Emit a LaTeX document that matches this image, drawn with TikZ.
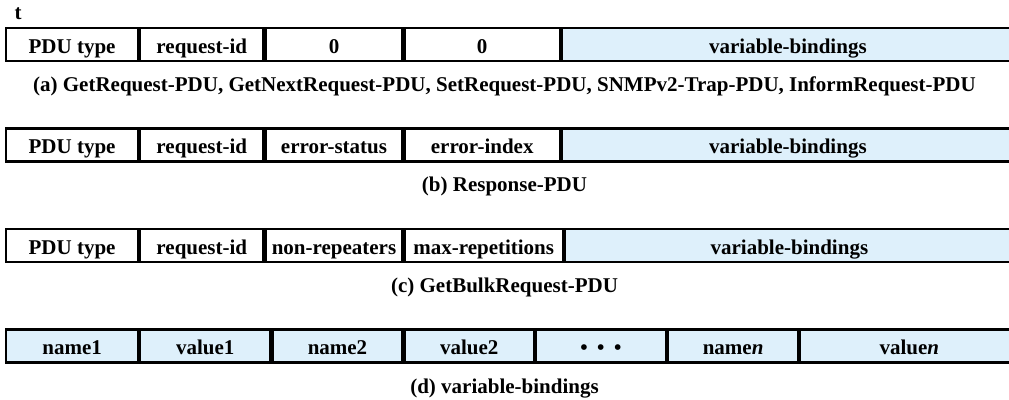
\documentclass[tikz,border=0pt]{standalone}
\usepackage{fontspec}
\setmainfont{Liberation Serif}
\usepackage{tikz}
\usetikzlibrary{positioning}
\definecolor{bindblue}{RGB}{222,240,251}
\tikzset{
  field/.style={
    draw=black,
    line width=1.1pt,
    fill=white,
    minimum height=16.5pt,
    inner sep=0pt,
    text height=9pt,
    text depth=0pt,
    font=\fontsize{10.5}{12}\selectfont\bfseries
  },
  bindfield/.style={field, fill=bindblue},
  pducaption/.style={font=\fontsize{10.5}{12}\selectfont\bfseries, inner sep=0pt}
}

\begin{document}
\begin{tikzpicture}[x=0.5pt, y=-0.5pt, node distance=0pt]
  \useasboundingbox (0,0) rectangle (1009,400);

  \node[pducaption] (tlab) at (18,14) {t};

  % (a)
  \node[field, minimum width=66pt, anchor=west] (a1) at (5,44.5) {PDU type};
  \node[field, right=of a1, minimum width=61.5pt] (a2) {request-id};
  \node[field, right=of a2, minimum width=68.5pt] (a3) {0};
  \node[field, right=of a3, minimum width=77.5pt] (a4) {0};
  \node[bindfield, right=of a4, minimum width=226pt] (a5) {variable-bindings};
  \node[pducaption] (capa) at (504.5,86.5) {(a) GetRequest-PDU, GetNextRequest-PDU, SetRequest-PDU, SNMPv2-Trap-PDU, InformRequest-PDU};

  % (b)
  \node[field, minimum width=66pt, anchor=west] (b1) at (5,145) {PDU type};
  \node[field, right=of b1, minimum width=61.5pt] (b2) {request-id};
  \node[field, right=of b2, minimum width=68.5pt] (b3) {error-status};
  \node[field, right=of b3, minimum width=77.5pt] (b4) {error-index};
  \node[bindfield, right=of b4, minimum width=226pt] (b5) {variable-bindings};
  \node[pducaption] (capb) at (504.5,186.5) {(b) Response-PDU};

  % (c)
  \node[field, minimum width=66pt, anchor=west] (c1) at (5,245.5) {PDU type};
  \node[field, right=of c1, minimum width=61.5pt] (c2) {request-id};
  \node[field, right=of c2, minimum width=68.5pt] (c3) {non-repeaters};
  \node[field, right=of c3, minimum width=79pt] (c4) {max-repetitions};
  \node[bindfield, right=of c4, minimum width=224.5pt] (c5) {variable-bindings};
  \node[pducaption] (capc) at (504.5,287.5) {(c) GetBulkRequest-PDU};

  % (d)
  \node[bindfield, minimum width=66pt, anchor=west] (d1) at (5,346) {name1};
  \node[bindfield, right=of d1, minimum width=65pt] (d2) {value1};
  \node[bindfield, right=of d2, minimum width=65pt] (d3) {name2};
  \node[bindfield, right=of d3, minimum width=64.5pt] (d4) {value2};
  \node[bindfield, right=of d4, minimum width=65pt] (d5) {\textbullet\hspace{4.8pt}\textbullet\hspace{4.8pt}\textbullet};
  \node[bindfield, right=of d5, minimum width=65pt] (d6) {name\textit{n}};
  \node[bindfield, right=of d6, minimum width=109pt] (d7) {value\textit{n}};
  \node[pducaption] (capd) at (504.5,388.5) {(d) variable-bindings};

\end{tikzpicture}
\end{document}
